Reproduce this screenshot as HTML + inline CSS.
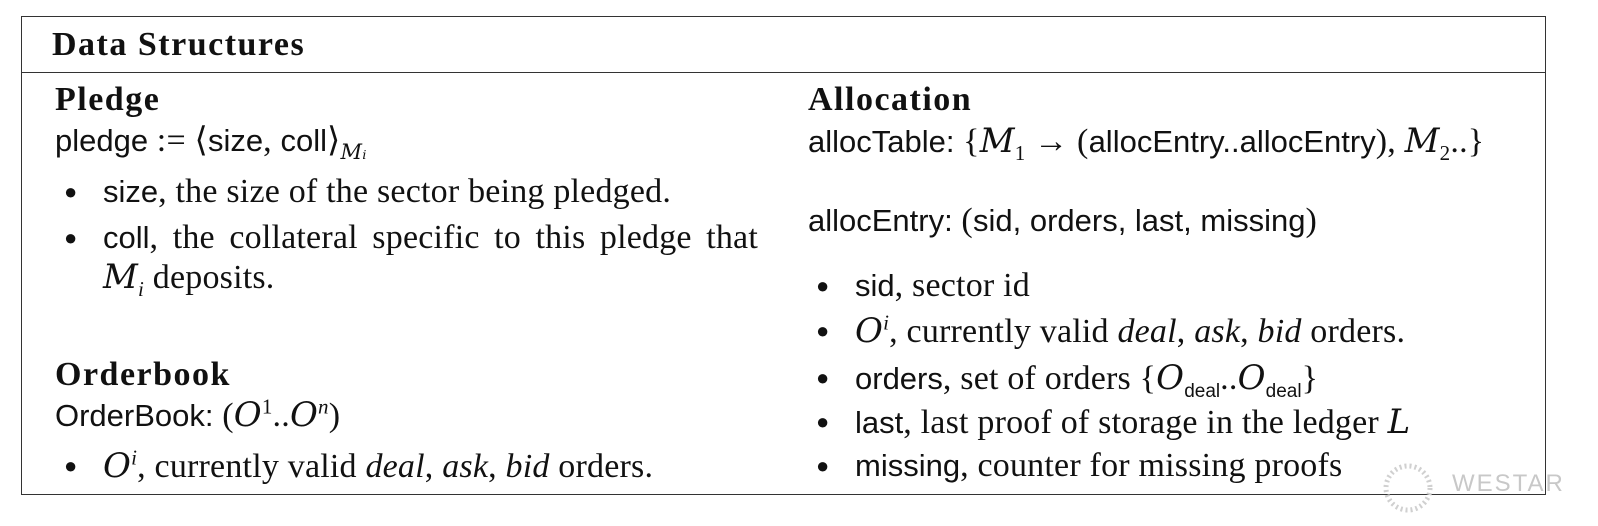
<!DOCTYPE html>
<html><head><meta charset="utf-8"><style>
html,body{margin:0;padding:0;background:#fff;}
#root{position:relative;width:1598px;height:526px;overflow:hidden;font-family:"Liberation Serif","DejaVu Serif",serif;color:#111;}
.box{position:absolute;left:21px;top:16px;width:1523px;height:477px;border:1.5px solid #333;}
.hr{position:absolute;left:21px;top:72px;width:1525px;height:0;border-top:1.5px solid #333;}
.t{position:absolute;font-size:34px;line-height:30px;white-space:nowrap;letter-spacing:0.2px;}
.b{font-weight:bold;letter-spacing:1.5px;}
.s{font-family:"Liberation Sans","DejaVu Sans",sans-serif;font-size:31px;letter-spacing:0;}
.bul{position:absolute;font-size:22px;line-height:30px;}
.cal{font-family:"DejaVu Serif",serif;font-style:italic;}
sub,sup{font-size:21px;line-height:0;}
.wm{position:absolute;left:1452px;top:470px;font-family:"Liberation Sans",sans-serif;font-size:24px;color:#c8c8c8;letter-spacing:2px;}
</style></head><body>
<div id="root">
<div class="box"></div>
<div class="hr"></div>
<div class="t b" style="left:52px;top:30px;">Data Structures</div>

<div class="t b" style="left:55px;top:85px;">Pledge</div>
<div class="t" style="left:55px;top:126px;"><span class="s">pledge</span> := ⟨<span class="s">size</span>, <span class="s">coll</span>⟩<sub class="cal">M<i>ᵢ</i></sub></div>
<div class="bul" style="left:64px;top:177px;">●</div>
<div class="t" style="left:103px;top:177px;"><span class="s">size</span>, the size of the sector being pledged.</div>
<div class="bul" style="left:64px;top:223px;">●</div>
<div class="t" style="left:103px;top:223px;width:655px;text-align:justify;text-align-last:justify;"><span class="s">coll</span>, the collateral specific to this pledge that</div>
<div class="t" style="left:103px;top:262px;"><span class="cal">M</span><sub><i>i</i></sub> deposits.</div>

<div class="t b" style="left:55px;top:360px;">Orderbook</div>
<div class="t" style="left:55px;top:400px;"><span class="s">OrderBook:</span> (<span class="cal">O</span><sup>1</sup>..<span class="cal">O</span><sup><i>n</i></sup>)</div>
<div class="bul" style="left:64px;top:451px;">●</div>
<div class="t" style="left:103px;top:451px;"><span class="cal">O</span><sup><i>i</i></sup>, currently valid <i>deal</i>, <i>ask</i>, <i>bid</i> orders.</div>

<div class="t b" style="left:808px;top:85px;">Allocation</div>
<div class="t" style="left:808px;top:126px;"><span class="s">allocTable:</span> {<span class="cal">M</span><sub>1</sub> → (<span class="s">allocEntry..allocEntry</span>), <span class="cal">M</span><sub>2</sub>..}</div>
<div class="t" style="left:808px;top:206px;"><span class="s">allocEntry:</span> (<span class="s">sid, orders, last, missing</span>)</div>
<div class="bul" style="left:816px;top:271px;">●</div>
<div class="t" style="left:855px;top:271px;"><span class="s">sid</span>, sector id</div>
<div class="bul" style="left:816px;top:316px;">●</div>
<div class="t" style="left:855px;top:316px;"><span class="cal">O</span><sup><i>i</i></sup>, currently valid <i>deal</i>, <i>ask</i>, <i>bid</i> orders.</div>
<div class="bul" style="left:816px;top:363px;">●</div>
<div class="t" style="left:855px;top:363px;"><span class="s">orders</span>, set of orders {<span class="cal">O</span><sub class="s" style="font-size:19px">deal</sub>..<span class="cal">O</span><sub class="s" style="font-size:19px">deal</sub>}</div>
<div class="bul" style="left:816px;top:407px;">●</div>
<div class="t" style="left:855px;top:407px;"><span class="s">last</span>, last proof of storage in the ledger <span class="cal">L</span></div>
<div class="bul" style="left:816px;top:451px;">●</div>
<div class="t" style="left:855px;top:451px;"><span class="s">missing</span>, counter for missing proofs</div>

<svg style="position:absolute;left:1378px;top:458px" width="60" height="60"><circle cx="30" cy="30" r="22" fill="none" stroke="#d0d0d0" stroke-width="5" stroke-dasharray="2 3"/></svg>
<div class="wm">WESTAR</div>
</div>
</body></html>
